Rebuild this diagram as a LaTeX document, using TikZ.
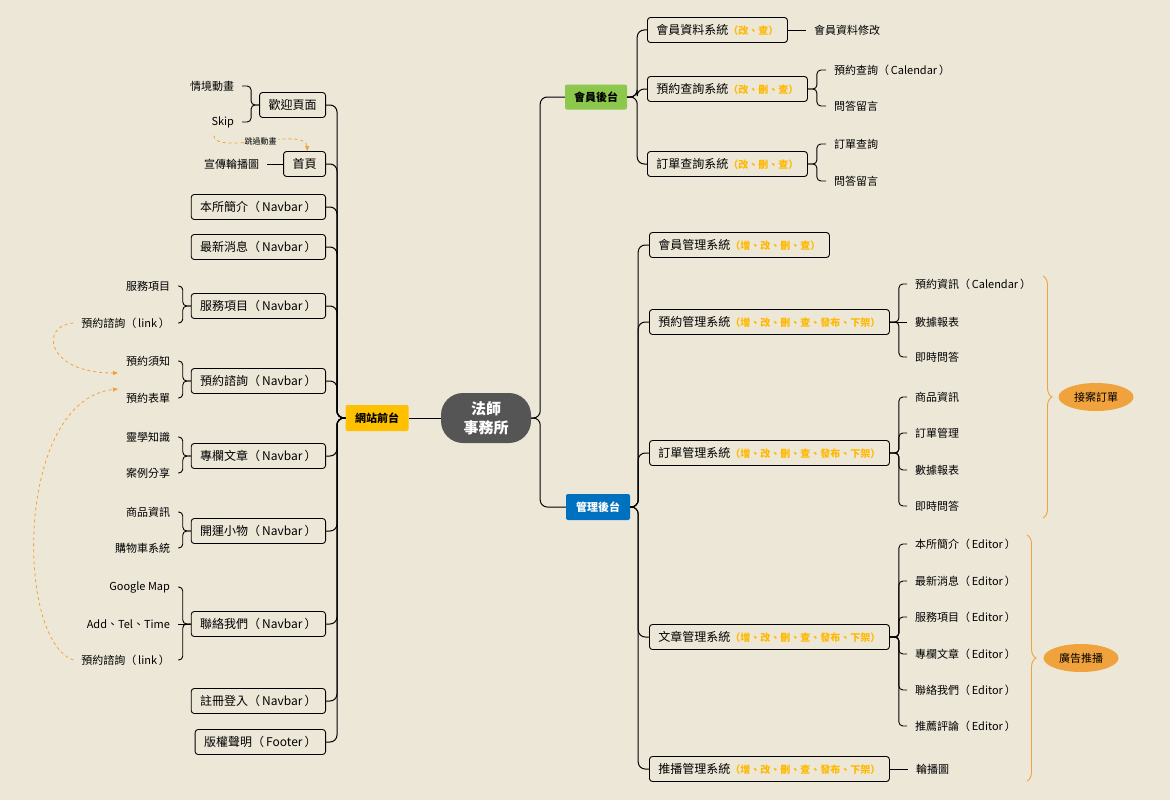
\documentclass[tikz,border=0pt]{standalone}
\usepackage{fontspec}
\setmainfont{Noto Sans CJK TC}
\usetikzlibrary{shapes.geometric,decorations.pathreplacing,arrows.meta}

\definecolor{paper}{RGB}{237,231,216}
\definecolor{webyellow}{RGB}{255,192,0}
\definecolor{membergreen}{RGB}{140,200,75}
\definecolor{adminblue}{RGB}{0,112,192}
\definecolor{coregray}{RGB}{85,85,85}
\definecolor{opsyellow}{RGB}{255,185,0}
\definecolor{noteorange}{RGB}{240,162,60}

% coloured list of operations after a system name
\newcommand{\ops}[1]{{\color{opsyellow}\fontsize{10}{12}\selectfont\bfseries（#1）}}
% full width brackets round a latin word
\newcommand{\pa}[1]{（\,#1\,）}

\tikzset{
  sysbox/.style={draw=black, line width=0.9pt, rounded corners=3pt, minimum height=25pt,
    inner xsep=9pt, inner ysep=2pt, font=\fontsize{12}{14}\selectfont},
  leaf/.style={inner sep=1pt, outer sep=7pt, font=\fontsize{11}{13}\selectfont},
  tag/.style={rounded corners=2pt, minimum height=26pt, minimum width=63pt,
    inner sep=2pt, font=\fontsize{11}{13}\selectfont\bfseries},
  link/.style={line width=1pt, rounded corners=7pt},
  twig/.style={line width=0.9pt, rounded corners=4pt},
  jump/.style={draw=noteorange, dashed, line width=0.8pt, -{Triangle[length=5pt,width=4pt]}},
  note/.style={ellipse, fill=noteorange, minimum width=75pt, minimum height=28pt,
    inner sep=0pt, font=\fontsize{11}{13}\selectfont},
  curly/.style={draw=noteorange, line width=0.9pt, decorate, decoration={brace, amplitude=9pt}}
}

\begin{document}
\begin{tikzpicture}[x=1pt,y=1pt,yscale=-1,xscale=1]
\useasboundingbox (0,0) rectangle (1170,800);
\fill[paper] (0,0) rectangle (1170,800);

% core
\node[fill=coregray, rounded corners=22pt, minimum width=90pt, minimum height=50pt,
  text=white, align=center, font=\fontsize{15}{19}\selectfont\bfseries] (core) at (486,418) {法師\\事務所};
\node[tag, fill=webyellow] (web) at (377,418) {網站前台};
\node[tag, fill=membergreen, minimum width=62pt, minimum height=25pt] (member) at (596,97) {會員後台};
\node[tag, fill=adminblue, text=white, minimum width=64pt] (admin) at (598,507) {管理後台};

\draw[link] (core.west) -- (web.east);
\draw[link] (core.east) -- ++(9pt,0) |- (member.west);
\draw[link] (core.east) -- ++(9pt,0) |- (admin.west);

% front end pages
\node[sysbox, anchor=east] (welcome) at (326,105) {歡迎頁面};
\node[sysbox, anchor=east] (home) at (326,164) {首頁};
\node[sysbox, anchor=east] (about) at (326,207) {本所簡介\pa{Navbar}};
\node[sysbox, anchor=east] (news) at (326,247) {最新消息\pa{Navbar}};
\node[sysbox, anchor=east] (service) at (326,306) {服務項目\pa{Navbar}};
\node[sysbox, anchor=east] (booking) at (326,381) {預約諮詢\pa{Navbar}};
\node[sysbox, anchor=east] (column) at (326,456) {專欄文章\pa{Navbar}};
\node[sysbox, anchor=east] (shop) at (326,531) {開運小物\pa{Navbar}};
\node[sysbox, anchor=east] (contact) at (326,624) {聯絡我們\pa{Navbar}};
\node[sysbox, anchor=east] (signup) at (326,701) {註冊登入\pa{Navbar}};
\node[sysbox, anchor=east] (copyright) at (326,742) {版權聲明\pa{Footer}};

\foreach \pg in {welcome,home,about,news,service,booking,column,shop,contact,signup,copyright}
  \draw[link] (\pg.east) -- ++(11pt,0) |- (web.west);

% front end leaves
\node[leaf, anchor=east] (wlAnim) at (242,86) {情境動畫};
\node[leaf, anchor=east] (wlSkip) at (242,122) {Skip};
\node[leaf, anchor=east] (hmBanner) at (267,164) {宣傳輪播圖};
\node[leaf, anchor=east] (svItem) at (178,286) {服務項目};
\node[leaf, anchor=east] (svLink) at (178,323) {預約諮詢\pa{link}};
\node[leaf, anchor=east] (bkNotice) at (178,361) {預約須知};
\node[leaf, anchor=east] (bkForm) at (178,398) {預約表單};
\node[leaf, anchor=east] (clKnow) at (178,437) {靈學知識};
\node[leaf, anchor=east] (clCase) at (178,473) {案例分享};
\node[leaf, anchor=east] (spGoods) at (178,512) {商品資訊};
\node[leaf, anchor=east] (spCart) at (178,548) {購物車系統};
\node[leaf, anchor=east] (ctMap) at (178,587) {Google Map};
\node[leaf, anchor=east] (ctAdd) at (178,624) {Add、Tel、Time};
\node[leaf, anchor=east] (ctLink) at (178,660) {預約諮詢\pa{link}};

\foreach \pg/\lf in {welcome/wlAnim,welcome/wlSkip,service/svItem,service/svLink,
    booking/bkNotice,booking/bkForm,column/clKnow,column/clCase,
    shop/spGoods,shop/spCart,contact/ctMap,contact/ctLink}
  \draw[twig] (\pg.west) -- ++(-8pt,0) |- (\lf.east);
\draw[twig] (home.west) -- (hmBanner.east);
\draw[twig] (contact.west) -- (ctAdd.east);

% jumps between pages
\draw[jump] ([xshift=-9pt]wlSkip.south) .. controls (216,156) and (305,126) .. ([xshift=3pt]home.north)
  node[pos=0.5, fill=paper, inner sep=1pt, text=black, font=\fontsize{8}{9}\selectfont] {跳過動畫};
\draw[jump] (svLink.west) .. controls (40,325) and (45,373) .. ([yshift=12pt]bkNotice.west);
\draw[jump] (ctLink.west) .. controls (15,640) and (15,400) .. ([yshift=-9pt]bkForm.west);

% member back end
\node[sysbox, anchor=west] (mbInfo) at (647,30) {會員資料系統\ops{改、查}};
\node[sysbox, anchor=west] (mbBook) at (647,89) {預約查詢系統\ops{改、刪、查}};
\node[sysbox, anchor=west] (mbOrder) at (647,164) {訂單查詢系統\ops{改、刪、查}};
\foreach \sy in {mbInfo,mbBook,mbOrder}
  \draw[link] (member.east) -- ++(10pt,0) |- (\sy.west);

\node[leaf, anchor=west] (mbInfoEdit) at (806,30) {會員資料修改};
\draw[twig] (mbInfo.east) -- (mbInfoEdit.west);
\node[leaf, anchor=west] (mbBookCal) at (826,70) {預約查詢\pa{Calendar}};
\node[leaf, anchor=west] (mbBookQa) at (826,106) {問答留言};
\node[leaf, anchor=west] (mbOrderQuery) at (826,144) {訂單查詢};
\node[leaf, anchor=west] (mbOrderQa) at (826,181) {問答留言};
\foreach \sy/\lf in {mbBook/mbBookCal,mbBook/mbBookQa,mbOrder/mbOrderQuery,mbOrder/mbOrderQa}
  \draw[twig] (\sy.east) -- ++(9pt,0) |- (\lf.west);

% admin back end
\node[sysbox, anchor=west] (adMember) at (649,245) {會員管理系統\ops{增、改、刪、查}};
\node[sysbox, anchor=west] (adBook) at (649,322) {預約管理系統\ops{增、改、刪、查、發布、下架}};
\node[sysbox, anchor=west] (adOrder) at (649,453) {訂單管理系統\ops{增、改、刪、查、發布、下架}};
\node[sysbox, anchor=west] (adArticle) at (649,637) {文章管理系統\ops{增、改、刪、查、發布、下架}};
\node[sysbox, anchor=west] (adPush) at (649,769) {推播管理系統\ops{增、改、刪、查、發布、下架}};
\foreach \sy in {adMember,adBook,adOrder,adArticle,adPush}
  \draw[link] (admin.east) -- ++(8pt,0) |- (\sy.west);

\foreach \lf/\y/\txt in {abCal/284/預約資訊\pa{Calendar},abQa/357/即時問答}{
  \node[leaf, anchor=west] (\lf) at (907,\y) {\txt};
  \draw[twig] (adBook.east) -- ++(9pt,0) |- (\lf.west);
}
\node[leaf, anchor=west] (abStat) at (907,322) {數據報表};
\draw[twig] (adBook.east) -- (abStat.west);

\foreach \lf/\y/\txt in {aoGoods/397/商品資訊,aoManage/433/訂單管理,aoStat/470/數據報表,aoQa/506/即時問答}{
  \node[leaf, anchor=west] (\lf) at (907,\y) {\txt};
  \draw[twig] (adOrder.east) -- ++(9pt,0) |- (\lf.west);
}

\foreach \lf/\y/\txt in {aaAbout/544/本所簡介\pa{Editor},aaNews/581/最新消息\pa{Editor},
    aaService/617/服務項目\pa{Editor},aaColumn/654/專欄文章\pa{Editor},
    aaContact/690/聯絡我們\pa{Editor},aaReview/726/推薦評論\pa{Editor}}{
  \node[leaf, anchor=west] (\lf) at (907,\y) {\txt};
  \draw[twig] (adArticle.east) -- ++(9pt,0) |- (\lf.west);
}

\node[leaf, anchor=west] (apBanner) at (908,769) {輪播圖};
\draw[twig] (adPush.east) -- (apBanner.west);

% groups
\coordinate (orderTop) at (1043,276);
\coordinate (orderBot) at (1043,518);
\coordinate (adTop) at (1027,535);
\coordinate (adBot) at (1027,781);
\draw[curly] (orderTop) -- (orderBot);
\draw[curly] (adTop) -- (adBot);
\node[note] (caseNote) at (1096,397) {接案訂單};
\node[note] (adNote) at (1081,658) {廣告推播};

\end{tikzpicture}
\end{document}
